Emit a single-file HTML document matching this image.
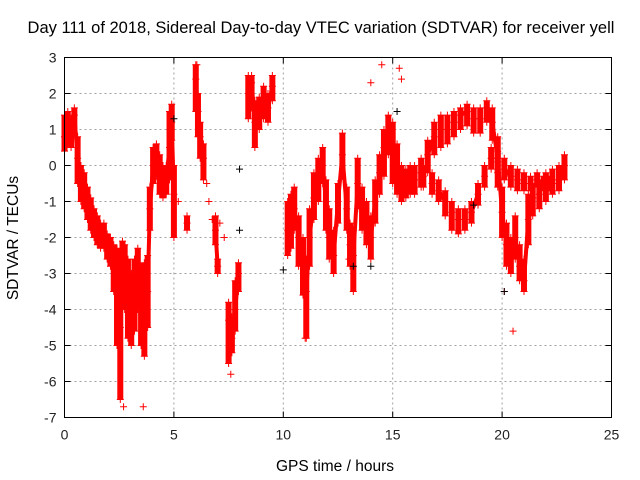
<!DOCTYPE html>
<html><head><meta charset="utf-8"><style>
body{margin:0;background:#fff}
svg{display:block;font-family:"Liberation Sans",sans-serif}
</style></head><body>
<svg id="chart" width="640" height="480" xmlns="http://www.w3.org/2000/svg">
<rect width="640" height="480" fill="#fff"/>
<text x="321" y="33" font-size="16.5" text-anchor="middle">Day 111 of 2018, Sidereal Day-to-day VTEC variation (SDTVAR) for receiver yell</text>
<g id="grid"></g>
<g id="ticks"></g>
<g id="marks"></g>
<rect x="64.5" y="57.5" width="547" height="360" fill="none" stroke="#000"/>
<text x="335" y="471" font-size="15.5" text-anchor="middle">GPS time / hours</text>
<text x="18" y="238" font-size="15.5" text-anchor="middle" transform="rotate(-90 18 238)">SDTVAR / TECUs</text>
</svg>
<script>
const xTicks=[0,5,10,15,20,25];
const yTicks=[3,2,1,0,-1,-2,-3,-4,-5,-6,-7];
const tA=[0,0.15,0.3,0.45,0.6,0.75,0.9,1.05,1.2,1.35,1.5,1.65,1.8,1.95,2.1,2.25,2.4,2.55,2.65,2.75,2.9,3.05,3.2,3.35,3.5,3.65,3.8,3.9,4.05,4.2,4.35,4.5,4.65,4.8,4.9,5.0];
const vA=[0.8,1.1,1.0,1.4,0.2,-0.4,-0.6,-1.0,-1.3,-1.6,-1.8,-2.0,-2.0,-2.2,-2.3,-2.6,-3.5,-4.5,-2.5,-2.8,-3.5,-4.2,-4.0,-3.2,-3.8,-4.0,-3.5,-1.2,0.0,0.2,-0.2,-0.5,-0.4,0.5,1.2,-0.8];
const loA=[0.4,0.6,0.5,0.9,-0.5,-1.0,-1.2,-1.5,-1.8,-2.0,-2.2,-2.3,-2.3,-2.6,-2.8,-3.5,-5.0,-6.5,-3.5,-4.0,-4.8,-5.0,-4.6,-4.0,-5.0,-5.3,-4.5,-1.8,-0.5,-0.3,-0.8,-0.9,-0.8,-0.4,0.7,-2.0];
const hiA=[1.4,1.5,1.3,1.6,0.8,0.0,-0.2,-0.6,-0.9,-1.2,-1.4,-1.6,-1.6,-1.9,-2.0,-2.2,-2.3,-2.4,-2.1,-2.2,-2.6,-3.0,-2.6,-2.3,-2.8,-2.7,-2.5,-0.6,0.5,0.6,0.3,0.0,0.0,1.5,1.7,0.0];
const tB=[5.6,6.0,6.1,6.2,6.35,6.9,7.0,7.5,7.65,7.8,7.95,8.4,8.55,8.7,8.9,9.1,9.3,9.5];
const vB=[-1.6,2.4,1.5,0.8,0.2,-1.8,-2.8,-4.3,-4.8,-4.0,-3.0,2.0,2.3,1.2,1.4,1.8,1.6,2.2];
const loB=[-1.8,1.5,0.8,0.2,-0.4,-2.2,-3.0,-5.5,-5.2,-4.6,-3.5,1.3,1.6,0.5,1.0,1.3,1.2,1.8];
const hiB=[-1.4,2.8,2.0,1.2,0.6,-1.4,-2.6,-3.8,-4.2,-3.2,-2.7,2.5,2.5,1.8,1.9,2.2,2.0,2.5];
const tC=[10.2,10.35,10.5,10.7,10.9,11.05,11.2,11.4,11.6,11.8,11.95,12.1,12.3,12.5,12.7,12.9,13.05,13.2,13.4,13.6,13.8,14.0,14.2,14.4,14.6,14.8,15.0,15.2,15.4,15.6,15.8,16.0,16.3,16.6,16.9,17.2,17.5,17.8,18.1,18.4,18.7,19.0,19.3,19.55,19.8,20.0,20.2,20.4,20.6,20.8,21.0,21.2,21.4,21.7,22.0,22.3,22.6,22.85];
const vC=[-1.8,-1.5,-1.2,-2.0,-2.8,-3.5,-2.0,-0.9,-0.4,0.0,-1.0,-2.0,-2.5,-1.0,0.3,-1.2,-2.2,-2.5,-0.5,-1.2,-1.6,-2.0,-1.0,-0.2,0.5,1.0,0.4,-0.2,-0.5,-0.5,-0.4,-0.4,-0.2,0.3,0.8,1.0,1.0,1.2,1.4,1.5,1.3,1.3,1.6,1.2,0.2,-1.3,-2.2,-2.5,-2.0,-2.8,-3.2,-1.5,-0.9,-0.8,-0.6,-0.5,-0.4,0.0];
const loC=[-2.5,-2.3,-1.8,-2.8,-3.6,-4.8,-2.8,-1.5,-1.0,-0.5,-1.8,-2.6,-3.0,-1.6,-0.3,-1.8,-2.8,-3.5,-1.2,-1.8,-2.2,-2.6,-1.6,-0.8,-0.3,0.3,-0.5,-0.8,-1.0,-0.9,-0.8,-0.8,-0.6,-0.2,0.3,0.5,0.6,0.8,1.0,1.1,0.9,0.9,1.2,0.7,-0.6,-2.0,-2.8,-3.0,-2.6,-3.2,-3.5,-2.2,-1.4,-1.2,-1.0,-0.8,-0.7,-0.4];
const hiC=[-1.0,-0.8,-0.6,-1.4,-2.0,-2.6,-1.2,-0.2,0.2,0.5,-0.4,-1.2,-1.8,-0.5,0.9,-0.6,-1.6,-1.8,0.2,-0.6,-1.0,-1.4,-0.4,0.3,1.0,1.4,1.2,0.6,0.0,-0.1,0.0,0.0,0.2,0.7,1.2,1.4,1.4,1.5,1.6,1.7,1.6,1.6,1.8,1.6,0.8,-0.6,-1.6,-2.0,-1.4,-2.2,-2.6,-0.8,-0.5,-0.4,-0.2,-0.1,0.0,0.3];
const tD=[16.4,16.8,17.1,17.4,17.7,18.0,18.3,18.6,18.9,19.2,19.5,19.8,20.1,20.4,20.7,21.0,21.3,21.6,21.9,22.2];
const vD=[-0.3,-0.5,-0.7,-1.0,-1.3,-1.5,-1.5,-1.3,-0.8,-0.3,0.2,0.1,-0.1,-0.3,-0.4,-0.5,-0.5,-0.4,-0.5,-0.5];
const loD=[-0.6,-0.8,-1.0,-1.4,-1.8,-1.9,-1.8,-1.6,-1.1,-0.6,-0.1,-0.2,-0.4,-0.6,-0.7,-0.7,-0.7,-0.6,-0.7,-0.7];
const hiD=[0.0,-0.2,-0.4,-0.7,-1.0,-1.2,-1.2,-1.0,-0.5,0.0,0.5,0.4,0.2,0.0,-0.1,-0.2,-0.3,-0.2,-0.3,-0.3];
const tOut=[5.2,6.05,14.0,14.5,15.3,15.4,20.5,20.1,13.0,3.6,2.7,7.6,11.0,6.6,6.75,7.1,7.3,6.5];
const vOut=[-1.0,2.8,2.3,2.8,2.7,2.4,-4.6,-3.5,-2.6,-6.7,-6.7,-5.8,-4.8,-1.0,-1.5,-1.6,-2.0,-0.5];
const tBlack=[5.0,8.0,8.0,10.0,13.2,14.0,15.2,18.7,20.1];
const vBlack=[1.3,-0.1,-1.8,-2.9,-2.8,-2.8,1.5,-1.1,-3.5];

const X0=64.5,X1=611.5,Y0=57.5,Y1=417.5;
const xs=t=>X0+(t-0)/25*(X1-X0);
const ys=v=>Y0+(3-v)/10*(Y1-Y0);
const NS="http://www.w3.org/2000/svg";
function mk(tag,attrs,parent){const e=document.createElementNS(NS,tag);for(const k in attrs)e.setAttribute(k,attrs[k]);parent.appendChild(e);return e;}
const grid=document.getElementById('grid'),ticks=document.getElementById('ticks'),marks=document.getElementById('marks');
xTicks.forEach(t=>{const x=xs(t);
 if(t>0&&t<25){const g=mk('line',{x1:x,x2:x,y1:Y0,y2:Y1,stroke:'#a0a0a0','stroke-dasharray':'2,3'},grid);
 
 }
 mk('line',{x1:x,x2:x,y1:Y1,y2:Y1-6,stroke:'#000'},ticks);mk('line',{x1:x,x2:x,y1:Y0,y2:Y0+6,stroke:'#000'},ticks);
 const l=mk('text',{x:x,y:Y1+22,'font-size':14,'text-anchor':'middle',fill:'#222'},ticks);l.textContent=t;
 
 });
yTicks.forEach(v=>{const y=ys(v);
 if(v<3&&v>-7){const g=mk('line',{x1:X0,x2:X1,y1:y,y2:y,stroke:'#a0a0a0','stroke-dasharray':'2,3'},grid);
 
 }
 mk('line',{x1:X0,x2:X0+6,y1:y,y2:y,stroke:'#000'},ticks);mk('line',{x1:X1,x2:X1-6,y1:y,y2:y,stroke:'#000'},ticks);
 const l=mk('text',{x:X0-8,y:y+5,'font-size':14,'text-anchor':'end',fill:'#222'},ticks);l.textContent=v;
 
 });
function plus(t,v,col){const x=xs(t),y=ys(v);
 const p=mk('path',{d:`M${x-3.5},${y}h7M${x},${y-3.5}v7`,stroke:col,'stroke-width':1},marks);
 
 }
function branch(T,V,L,H){
 let d='';T.forEach((t,i)=>{const brk=i===0||t-T[i-1]>0.3;d+=(brk?'M':'L')+xs(t)+','+ys(V[i]);});
 const pl=mk('path',{d:d,fill:'none',stroke:'#f00','stroke-width':4,'stroke-linejoin':'round','stroke-linecap':'round'},marks);
 
 
 T.forEach((t,i)=>{
  const r=mk('line',{x1:xs(t),x2:xs(t),y1:ys(L[i]),y2:ys(H[i]),stroke:'#f00','stroke-width':6},marks);
  
  
  plus(t,L[i],'#f00');plus(t,H[i],'#f00');plus(t,V[i],'#f00');});}
branch(tA,vA,loA,hiA);branch(tB,vB,loB,hiB);branch(tC,vC,loC,hiC);branch(tD,vD,loD,hiD);
tOut.forEach((t,i)=>plus(t,vOut[i],'#f00'));
tBlack.forEach((t,i)=>plus(t,vBlack[i],'#000'));
</script>
</body></html>
